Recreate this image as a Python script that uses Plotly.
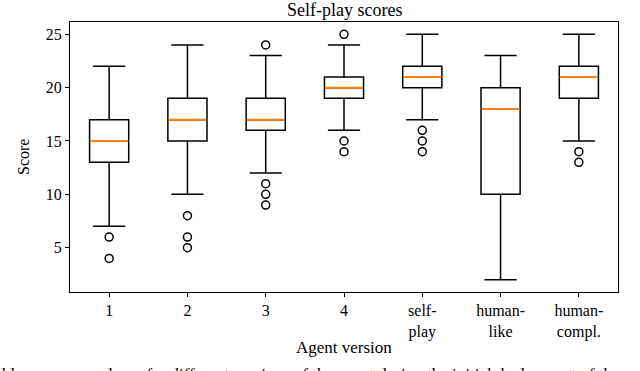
import plotly.graph_objects as go

categories = ["1", "2", "3", "4", "self-<br>play", "human-<br>like", "human-<br>compl."]
positions = [1, 2, 3, 4, 5, 6, 7]
q1 = [13, 15, 16, 19, 20, 10, 19]
median = [15, 17, 17, 20, 21, 18, 21]
q3 = [17, 19, 19, 21, 22, 20, 22]
lower_whisker = [7, 10, 12, 16, 17, 2, 15]
upper_whisker = [22, 24, 23, 24, 25, 23, 25]
outliers = [
    [6, 4],
    [8, 6, 5],
    [24, 11, 10, 9],
    [25, 15, 14],
    [16, 15, 14],
    [],
    [14, 13],
]

FONT = "Liberation Serif, Times New Roman, serif"

fig = go.Figure()

fig.add_trace(go.Box(
    x=positions, q1=q1, median=median, q3=q3,
    lowerfence=lower_whisker, upperfence=upper_whisker,
    boxpoints=False, width=0.5,
    line=dict(color="black", width=1.5), fillcolor="white",
    whiskerwidth=0, showlegend=False, hoverinfo="skip",
))

# whisker caps
cap_x = positions + positions
cap_y = lower_whisker + upper_whisker
fig.add_trace(go.Scatter(
    x=cap_x, y=cap_y, mode="markers",
    marker=dict(symbol="line-ew", size=23, line=dict(color="black", width=1.5)),
    showlegend=False, hoverinfo="skip",
))

# medians
fig.add_trace(go.Scatter(
    x=positions, y=median, mode="markers",
    marker=dict(size=1, color="rgba(0,0,0,0)"),
    error_x=dict(type="constant", value=0.245, width=0, color="#ff7f0e", thickness=2),
    showlegend=False, hoverinfo="skip",
))

# outliers
ox, oy = [], []
for p, vals in zip(positions, outliers):
    for v in vals:
        ox.append(p)
        oy.append(v)
fig.add_trace(go.Scatter(
    x=ox, y=oy, mode="markers",
    marker=dict(symbol="circle-open", size=8, color="black", line=dict(color="black", width=1.5)),
    showlegend=False, hoverinfo="skip",
))

axis_common = dict(
    showline=True, linecolor="black", linewidth=1, mirror=True,
    ticks="outside", ticklen=4, tickcolor="black", tickwidth=1,
    showgrid=False, zeroline=False,
    tickfont=dict(family=FONT, size=16, color="black"),
)

fig.update_layout(
    width=640, height=371,
    margin=dict(l=70, r=22, t=22, b=79),
    plot_bgcolor="white", paper_bgcolor="white",
    xaxis=dict(range=[0.5, 7.5], tickmode="array", tickvals=positions, ticktext=categories, **axis_common),
    yaxis=dict(range=[0.85, 26.15], tickmode="array", tickvals=[5, 10, 15, 20, 25], **axis_common),
    font=dict(family=FONT, color="black"),
    annotations=[
        dict(text="Self-play scores", x=0.5, y=1, xref="paper", yref="paper",
             xanchor="center", yanchor="middle", yshift=12, showarrow=False,
             font=dict(family=FONT, size=18, color="black")),
        dict(text="Agent version", x=0.5, y=0, xref="paper", yref="paper",
             xanchor="center", yanchor="middle", yshift=-55, showarrow=False,
             font=dict(family=FONT, size=17, color="black")),
        dict(text="Score", x=0, y=0.5, xref="paper", yref="paper", textangle=-90,
             xanchor="center", yanchor="middle", xshift=-47, showarrow=False,
             font=dict(family=FONT, size=16, color="black")),
        dict(text="ble scores per player for different versions of the agent during the initial deployment of the sy",
             x=0.5, y=0, xref="paper", yref="paper", xanchor="center", yanchor="middle",
             xshift=-24, yshift=-82, showarrow=False,
             font=dict(family=FONT, size=17, color="black")),
    ],
)

fig.write_html("out.html", config={"displayModeBar": False},
               post_script="document.body.style.margin='0px';")
